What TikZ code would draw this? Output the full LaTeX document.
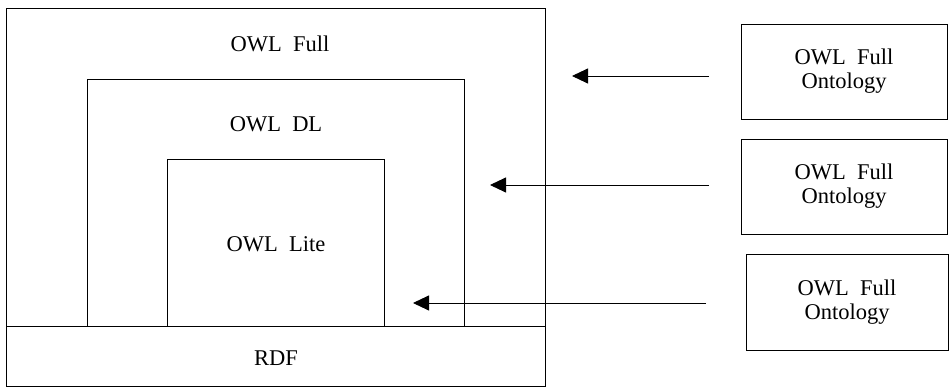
\documentclass[tikz,border=0pt]{standalone}
\usepackage{fontspec}
\setmainfont{Liberation Serif}
\usetikzlibrary{arrows.meta}
\begin{document}
\begin{tikzpicture}[x=1pt,y=-1pt,
  box/.style={draw=black,line width=0.9pt,rectangle,inner sep=0pt},
  lbl/.style={font=\fontsize{22.5}{24}\selectfont,align=center,inner sep=0pt},
  arr/.style={line width=0.9pt,-{Triangle[length=16pt,width=15pt]}}]
\useasboundingbox (0,0) rectangle (949,390);
% layered boxes
\node[box,minimum width=539pt,minimum height=318pt] (full) at (275.5,167) {};
\node[box,minimum width=377pt,minimum height=247pt] (dl) at (275.5,202.5) {};
\node[box,minimum width=217pt,minimum height=167pt] (lite) at (275.5,242.5) {};
\node[box,minimum width=539pt,minimum height=60pt] (rdf) at (275.5,356) {};
\node[lbl] (tfull) at (280,44) {OWL\enspace Full};
\node[lbl] (tdl) at (276,124) {OWL\enspace DL};
\node[lbl] (tlite) at (276,244) {OWL\enspace Lite};
\node[lbl] (trdf) at (276,358) {RDF};
% ontology boxes
\node[box,lbl,minimum width=206pt,minimum height=95pt] (o1) at (844,71.5) {OWL\enspace Full\\Ontology};
\node[box,lbl,minimum width=206pt,minimum height=95pt] (o2) at (844,186.5) {OWL\enspace Full\\Ontology};
\node[box,lbl,minimum width=202pt,minimum height=96pt] (o3) at (847,302) {OWL\enspace Full\\Ontology};
% arrows
\coordinate (s1) at (709,76);
\coordinate (e1) at (572,76);
\coordinate (s2) at (709,185);
\coordinate (e2) at (490,185);
\coordinate (s3) at (706,303);
\coordinate (e3) at (413,303);
\draw[arr] (s1) -- (e1);
\draw[arr] (s2) -- (e2);
\draw[arr] (s3) -- (e3);
\end{tikzpicture}
\end{document}
